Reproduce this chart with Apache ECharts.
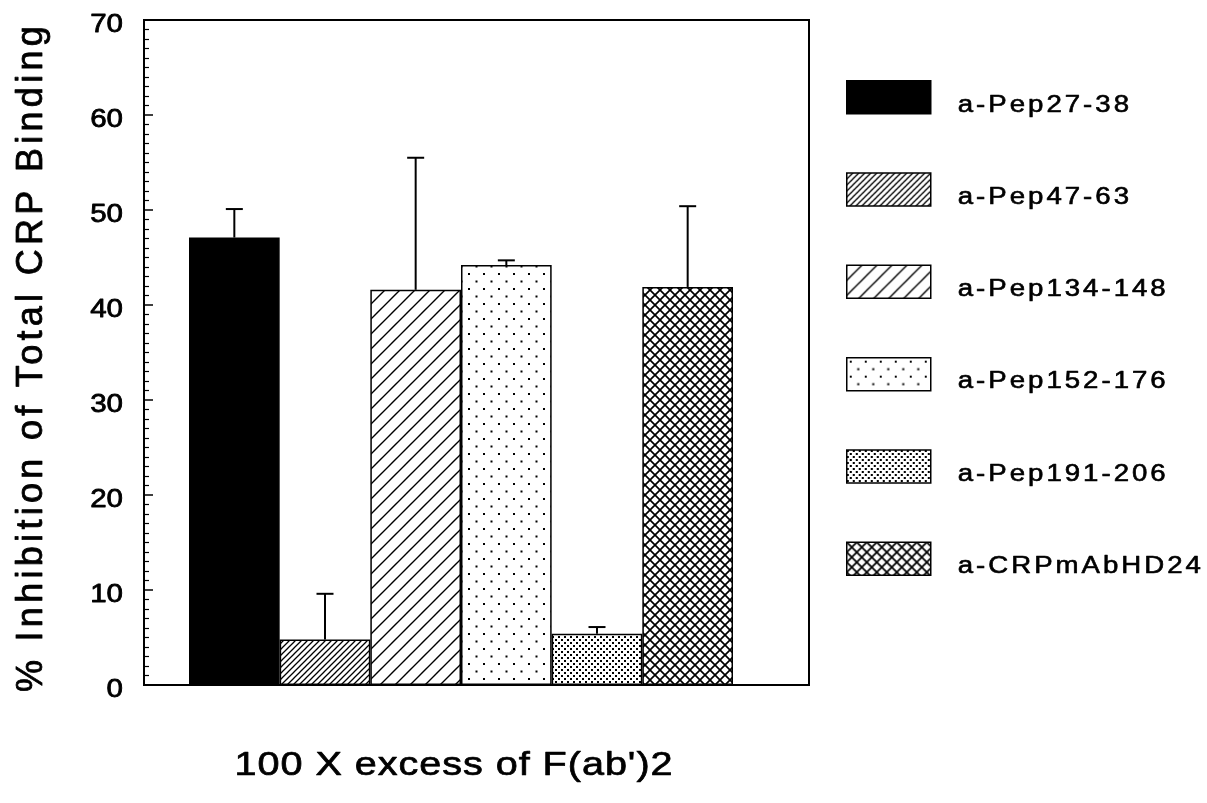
<!DOCTYPE html>
<html>
<head>
<meta charset="utf-8">
<script src="https://cdn.jsdelivr.net/npm/echarts@6/dist/echarts.min.js"></script>
<style>
html,body{margin:0;padding:0;background:#fff;}
#chart{width:1207px;height:803px;}
</style>
</head>
<body>
<div id="chart"></div>
<script>
// ---- data ----
const categories = ['a-Pep27-38', 'a-Pep47-63', 'a-Pep134-148', 'a-Pep152-176', 'a-Pep191-206', 'a-CRPmAbHD24'];
const means = [47.1, 4.8, 41.6, 44.2, 5.4, 41.9];
const errors = [3.0, 4.8, 13.9, 0.5, 0.7, 8.5];
const yTicks = [0, 10, 20, 30, 40, 50, 60, 70];
const xTitle = "100 X excess of F(ab')2";
const yTitle = '% Inhibition of Total CRP Binding';

// ---- style: text rendering tweaks keyed by font size (wide, tracked Helvetica look) ----
const TEXT_FX = {
  23: { sx: 1.2, ls: 2.5, dy: 8, w: 0.6 },
  25: { sx: 1.18, ls: 0, dy: 5, w: 0.8 },
  33: { sx: 1.2, ls: 0.8, dy: 0, w: 0.7 },
  36: { sx: 1.0, ls: 4.3, dy: 0, w: 0.8 }
};
const _ft = CanvasRenderingContext2D.prototype.fillText;
const _st = CanvasRenderingContext2D.prototype.strokeText;
CanvasRenderingContext2D.prototype.fillText = function (t, x, y, m) {
  const mm = /(\d+(?:\.\d+)?)px/.exec(this.font);
  const fx = mm ? TEXT_FX[Math.round(+mm[1])] : null;
  if (!fx) {
    try { this.letterSpacing = '0px'; } catch (e) {}
    return m === undefined ? _ft.call(this, t, x, y) : _ft.call(this, t, x, y, m);
  }
  this.save();
  try { this.letterSpacing = fx.ls + 'px'; } catch (e) {}
  this.translate(x, y + fx.dy);
  this.scale(fx.sx, 1);
  _ft.call(this, t, 0, 0);
  this.lineWidth = fx.w;
  this.lineJoin = 'round';
  this.strokeStyle = this.fillStyle;
  this.setLineDash([]);
  _st.call(this, t, 0, 0);
  this.restore();
};

function makeTile(w, h, draw) {
  const c = document.createElement('canvas');
  c.width = w; c.height = h;
  const g = c.getContext('2d');
  g.fillStyle = '#fff'; g.fillRect(0, 0, w, h);
  g.strokeStyle = '#000'; g.fillStyle = '#000';
  draw(g, w, h);
  return { image: c, repeat: 'repeat' };
}
function diag(g, s, lw) {
  g.lineWidth = lw;
  g.beginPath();
  g.moveTo(-1, s + 1); g.lineTo(s + 1, -1);
  g.moveTo(-1, 1); g.lineTo(1, -1);
  g.moveTo(s - 1, s + 1); g.lineTo(s + 1, s - 1);
  g.stroke();
}
const fills = [
  '#000',
  makeTile(6, 6, (g, w) => diag(g, w, 1.3)),
  makeTile(15, 15, (g, w) => diag(g, w, 1.4)),
  makeTile(15, 15, (g) => { g.fillRect(3, 3, 2, 2); g.fillRect(10.5, 10.5, 2, 2); }),
  makeTile(6, 6, (g) => { g.fillRect(0, 0, 2, 2); g.fillRect(3, 3, 2, 2); }),
  makeTile(10, 10, (g, w) => {
    g.lineWidth = 1.7;
    g.beginPath();
    g.moveTo(-1, -1); g.lineTo(w + 1, w + 1);
    g.moveTo(-1, w + 1); g.lineTo(w + 1, -1);
    g.stroke();
  })
];

const FONT = '"Liberation Sans", Arial, Helvetica, sans-serif';
const chart = echarts.init(document.getElementById('chart'), null, { renderer: 'canvas' });

const barSeries = categories.map((name, i) => ({
  name: name,
  type: 'bar',
  xAxisIndex: 1,
  yAxisIndex: 1,
  barGap: '-100%',
  barCategoryGap: '0%',
  data: categories.map((c, j) => (j === i ? means[i] : '-')),
  itemStyle: { color: fills[i], borderColor: '#000', borderWidth: 1.5 },
  emphasis: { disabled: true },
  z: 2
}));

const errSeries = {
  type: 'custom',
  xAxisIndex: 1,
  yAxisIndex: 1,
  z: 5,
  data: means.map((m, i) => [i, m, m + errors[i]]),
  encode: { x: 0, y: [1, 2] },
  renderItem: function (params, api) {
    const i = api.value(0);
    const p0 = api.coord([i, api.value(1)]);
    const p1 = api.coord([i, api.value(2)]);
    const half = 8.5;
    const st = { stroke: '#000', lineWidth: 2 };
    return {
      type: 'group',
      children: [
        { type: 'line', shape: { x1: p0[0], y1: p0[1], x2: p1[0], y2: p1[1] }, style: st },
        { type: 'line', shape: { x1: p1[0] - half, y1: p1[1], x2: p1[0] + half, y2: p1[1] }, style: st }
      ]
    };
  }
};

chart.setOption({
  animation: false,
  backgroundColor: '#fff',
  grid: [
    { left: 144, top: 20, width: 665, height: 665, show: true, borderColor: '#000', borderWidth: 2, backgroundColor: 'transparent', containLabel: false },
    { left: 189, top: 20, width: 544, height: 665, containLabel: false }
  ],
  xAxis: [
    { gridIndex: 0, type: 'value', min: 0, max: 1, show: false },
    { gridIndex: 1, type: 'category', data: categories, show: false, boundaryGap: true }
  ],
  yAxis: [
    {
      gridIndex: 0, type: 'value', min: yTicks[0], max: yTicks[yTicks.length - 1], interval: 10,
      axisLine: { show: true, lineStyle: { color: '#000', width: 2 } },
      axisTick: { show: true, inside: true, length: 9, lineStyle: { color: '#000', width: 1.5 } },
      minorTick: { show: true, splitNumber: 10, length: 5, lineStyle: { color: '#000', width: 1.2 } },
      splitLine: { show: false },
      axisLabel: { color: '#000', fontSize: 25, fontFamily: FONT, margin: 21 }
    },
    { gridIndex: 1, type: 'value', min: yTicks[0], max: yTicks[yTicks.length - 1], show: false, splitLine: { show: false } }
  ],
  legend: {
    data: categories,
    orient: 'vertical',
    left: 846,
    top: 80,
    padding: 0,
    itemWidth: 84,
    itemHeight: 33,
    itemGap: 57.8,
    icon: 'rect',
    selectedMode: false,
    itemStyle: { borderColor: '#000', borderWidth: 1.5 },
    textStyle: { color: '#000', fontSize: 23, fontFamily: FONT, padding: [0, 0, 0, 22] }
  },
  graphic: [
    {
      type: 'text', x: 454, y: 766, silent: true,
      style: { text: xTitle, font: '33px ' + FONT, fill: '#000', align: 'center', verticalAlign: 'middle' }
    },
    {
      type: 'text', x: 32, y: 357, rotation: Math.PI / 2, silent: true,
      style: { text: yTitle, font: '36px ' + FONT, fill: '#000', align: 'center', verticalAlign: 'middle' }
    }
  ],
  series: barSeries.concat([errSeries])
});
</script>
</body>
</html>
